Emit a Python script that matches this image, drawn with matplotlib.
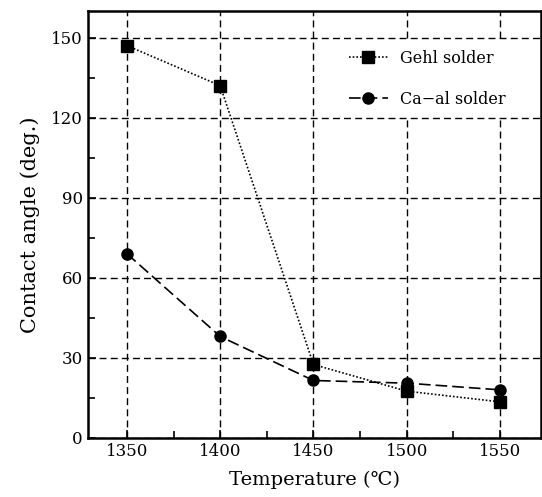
import matplotlib
matplotlib.use("Agg")
import matplotlib.pyplot as plt

plt.rcParams['font.family'] = ['DejaVu Serif', 'DejaVu Sans']

temps = [1350, 1400, 1450, 1500, 1550]
gehl = [147, 132, 27.5, 17.5, 13.5]
caal = [69, 38, 21.5, 20.5, 18]
labels = ["Gehl solder", "Ca\u2212al solder"]
xticks = [1350, 1400, 1450, 1500, 1550]
yticks = [0, 30, 60, 90, 120, 150]

fig = plt.figure(figsize=(5.42, 4.97), dpi=100)
ax = fig.add_axes([0.162, 0.119, 0.836, 0.859])

ax.plot(temps, gehl, color="black", linestyle=(0, (1, 1.2)), linewidth=1.2,
        marker="s", markersize=8, label=labels[0])
ax.plot(temps, caal, color="black", linestyle=(0, (7, 3)), linewidth=1.2,
        marker="o", markersize=8, label=labels[1])

ax.set_xlim(1329, 1572)
ax.set_ylim(0, 160)
ax.set_xticks(xticks)
ax.set_yticks(yticks)
ax.set_xticks([1375, 1425, 1475, 1525], minor=True)
ax.set_yticks([15, 45, 75, 105, 135], minor=True)
ax.tick_params(which="both", direction="in", labelsize=12, width=1.2)
ax.tick_params(which="major", length=6)
ax.tick_params(which="minor", length=5)
ax.grid(True, which="major", color="black", linestyle=(0, (5, 3)), linewidth=1.0)
ax.set_axisbelow(True)
for s in ax.spines.values():
    s.set_linewidth(1.8)

ax.set_xlabel("Temperature (\u2103)", fontsize=14, labelpad=8)
ax.set_ylabel("Contact angle (deg.)", fontsize=15, labelpad=8)

leg = ax.legend(loc="upper left", bbox_to_anchor=(0.556, 0.932), fontsize=11.5,
                frameon=True, facecolor="white", edgecolor="none", framealpha=1,
                fancybox=False, labelspacing=1.5, handlelength=2.4,
                handletextpad=0.75, borderpad=0.6, borderaxespad=0)

fig.savefig("out.png", dpi=100)
